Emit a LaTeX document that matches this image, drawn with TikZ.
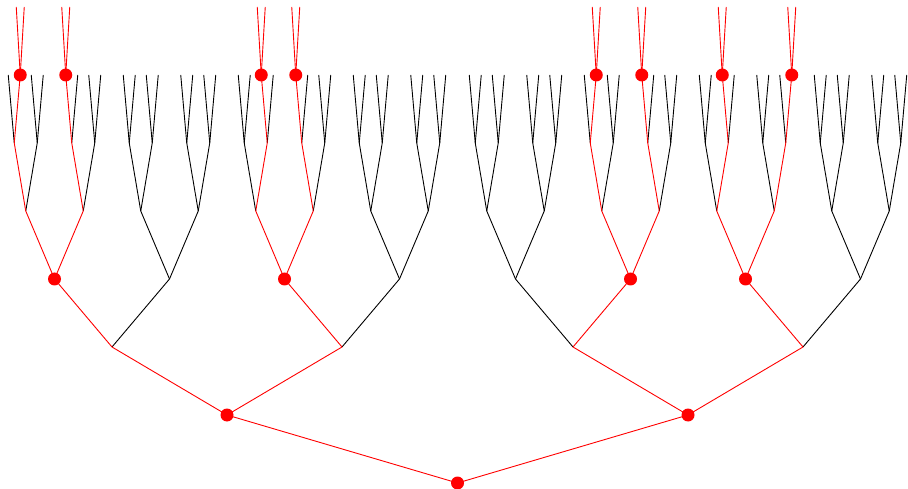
\documentclass[tikz,border=0pt]{standalone}
\usetikzlibrary{calc}
\tikzset{
  bedge/.style={black,line width=0.9pt},
  redge/.style={red,line width=0.9pt},
}
\newcommand\blackedge[2]{\ifcsname isred@#2\endcsname\else\draw[bedge] (#1) -- (#2);\fi}
\begin{document}
\begin{tikzpicture}[x=1pt,y=-1pt]
\useasboundingbox (0,0) rectangle (908,489);
% red edges (by child name)
\foreach \c in {r0,r1,r00,r01,r10,r11,r000,r010,r101,r110,
  r0000,r0001,r0100,r0101,r1010,r1011,r1100,r1101,
  r00000,r00010,r01001,r01010,r10100,r10110,r11001,r11011,
  r000001,r000100,r010010,r010100,r101001,r101100,r110010,r110111}
  {\expandafter\gdef\csname isred@\c\endcsname{}}
\coordinate (r) at (457.5,483);
\foreach \a in {0,1}{
  \coordinate (r\a) at ($(r)+({(2*\a-1)*230.5},-68)$);
  \blackedge{r}{r\a}
  \foreach \b in {0,1}{
    \coordinate (r\a\b) at ($(r\a)+({(2*\b-1)*115},-68)$);
    \blackedge{r\a}{r\a\b}
    \foreach \c in {0,1}{
      \coordinate (r\a\b\c) at ($(r\a\b)+({(2*\c-1)*57.5},-68)$);
      \blackedge{r\a\b}{r\a\b\c}
      \foreach \d in {0,1}{
        \coordinate (r\a\b\c\d) at ($(r\a\b\c)+({(2*\d-1)*28.75},-68)$);
        \blackedge{r\a\b\c}{r\a\b\c\d}
        \foreach \e in {0,1}{
          \coordinate (r\a\b\c\d\e) at ($(r\a\b\c\d)+({(2*\e-1)*11.5},-68)$);
          \blackedge{r\a\b\c\d}{r\a\b\c\d\e}
          \foreach \f in {0,1}{
            \coordinate (r\a\b\c\d\e\f) at ($(r\a\b\c\d\e)+({(2*\f-1)*6},-68)$);
            \blackedge{r\a\b\c\d\e}{r\a\b\c\d\e\f}
          }
        }
      }
    }
  }
}
% red paths
\foreach \p/\c in {r/r0,r/r1,r0/r00,r0/r01,r1/r10,r1/r11,
  r00/r000,r01/r010,r10/r101,r11/r110,
  r000/r0000,r000/r0001,r010/r0100,r010/r0101,r101/r1010,r101/r1011,r110/r1100,r110/r1101,
  r0000/r00000,r0001/r00010,r0100/r01001,r0101/r01010,r1010/r10100,r1011/r10110,r1100/r11001,r1101/r11011,
  r00000/r000001,r00010/r000100,r01001/r010010,r01010/r010100,r10100/r101001,r10110/r101100,r11001/r110010,r11011/r110111}
  {\draw[redge] (\p) -- (\c);}
% top red branches
\foreach \t in {r000001,r000100,r010010,r010100,r101001,r101100,r110010,r110111}{
  \coordinate (\t0) at ($(\t)+(-4,-68)$);
  \coordinate (\t1) at ($(\t)+(4,-68)$);
  \draw[redge] (\t) -- (\t0);
  \draw[redge] (\t) -- (\t1);
}
% red dots
\foreach \t in {r,r0,r1,r000,r010,r101,r110,
  r000001,r000100,r010010,r010100,r101001,r101100,r110010,r110111}
  {\fill[red] (\t) circle (6.5);}
\end{tikzpicture}
\end{document}
